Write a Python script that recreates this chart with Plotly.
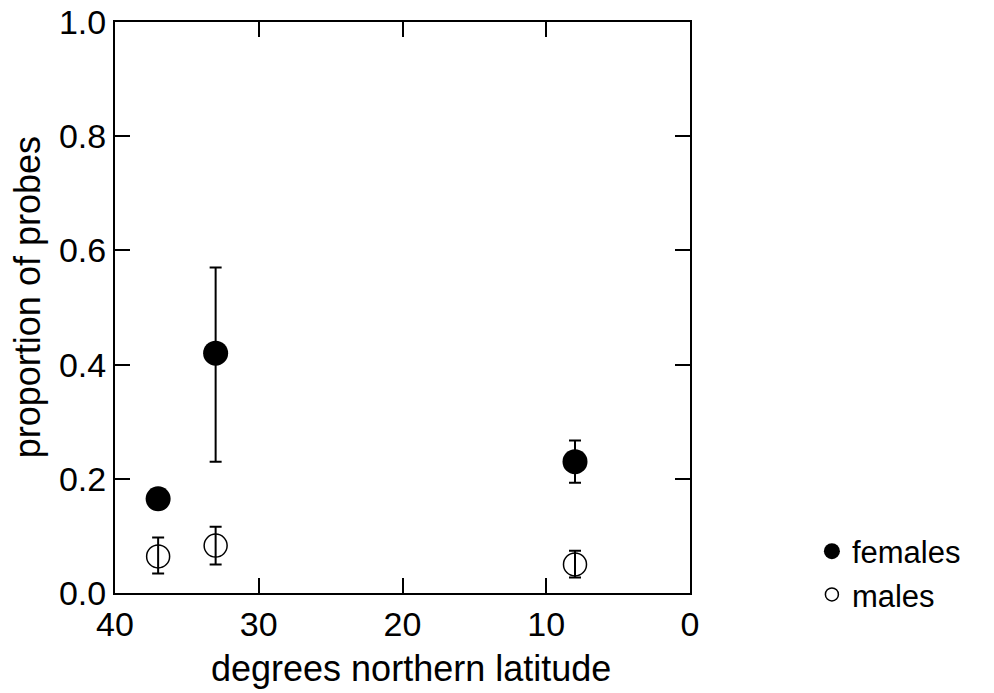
import plotly.graph_objects as go

lat = [37, 33, 8]
fem_y = [0.165, 0.42, 0.23]
fem_up = [0.0, 0.15, 0.037]
fem_dn = [0.0, 0.19, 0.037]
male_y = [0.064, 0.083, 0.05]
male_up = [0.033, 0.033, 0.024]
male_dn = [0.03, 0.033, 0.023]

x_ticks = [40, 30, 20, 10, 0]
y_ticks = [0.0, 0.2, 0.4, 0.6, 0.8, 1.0]

FONT = "Liberation Sans, Arial, sans-serif"

fig = go.Figure()
fig.add_trace(go.Scatter(
    x=lat, y=fem_y, mode="markers", showlegend=False,
    marker=dict(symbol="circle", size=25, color="black"),
    error_y=dict(type="data", symmetric=False, array=fem_up, arrayminus=fem_dn,
                 color="black", thickness=2, width=6),
))
fig.add_trace(go.Scatter(
    x=lat, y=male_y, mode="markers", showlegend=False,
    marker=dict(symbol="circle-open", size=23, color="black", line=dict(width=1.5)),
    error_y=dict(type="data", symmetric=False, array=male_up, arrayminus=male_dn,
                 color="black", thickness=2, width=6),
))
# legend entries
fig.add_trace(go.Scatter(x=[None], y=[None], mode="markers", name="females",
                         marker=dict(symbol="circle", size=17, color="black")))
fig.add_trace(go.Scatter(x=[None], y=[None], mode="markers", name="males",
                         marker=dict(symbol="circle-open", size=13, color="black",
                                     line=dict(width=1.5))))

axis_common = dict(showline=True, linecolor="black", linewidth=2, mirror="ticks",
                   ticks="inside", ticklen=15, tickwidth=2, tickcolor="black",
                   showgrid=False, zeroline=False, automargin=False,
                   tickfont=dict(family=FONT, size=34, color="black"))

fig.update_xaxes(range=[40, 0], tickvals=x_ticks, ticktext=[str(v) for v in x_ticks],
                 **axis_common)
fig.update_yaxes(range=[0, 1], tickvals=y_ticks, ticktext=[f"{v:.1f}" for v in y_ticks],
                 **axis_common)

title_font = dict(family=FONT, size=36, color="black")
fig.add_annotation(text="degrees northern latitude", xref="paper", yref="paper",
                   x=0.515, y=0, xanchor="center", yanchor="middle", yshift=-75,
                   showarrow=False, font=title_font)
fig.add_annotation(text="proportion of probes", xref="paper", yref="paper",
                   x=0, y=0.518, xanchor="center", yanchor="middle", xshift=-88,
                   textangle=-90, showarrow=False, font=title_font)

fig.update_layout(
    width=994, height=693,
    margin=dict(l=115, r=304, t=22, b=100),
    plot_bgcolor="white", paper_bgcolor="white",
    font=dict(family=FONT, color="black"),
    legend=dict(x=1.212, y=0.12, xanchor="left", yanchor="top",
                font=dict(family=FONT, size=31, color="black"),
                itemsizing="trace", bgcolor="rgba(0,0,0,0)", tracegroupgap=0),
)

fig.write_html("out.html")
